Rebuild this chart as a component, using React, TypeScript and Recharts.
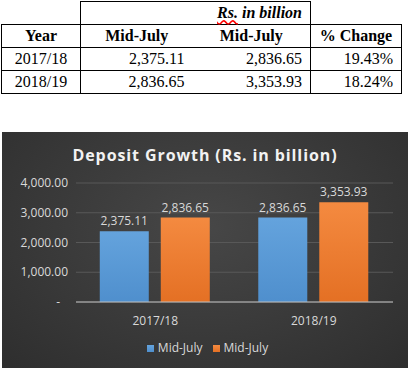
import React from 'react';
import { BarChart, Bar, XAxis, YAxis, CartesianGrid, Legend, LabelList } from 'recharts';

const years = ['2017/18', '2018/19'];
const midJulyA = [2375.11, 2836.65];
const midJulyB = [2836.65, 3353.93];
const pctChange = ['19.43%', '18.24%'];
const yTicks = [0, 1000, 2000, 3000, 4000];

const data = years.map((y, i) => ({ year: y, a: midJulyA[i], b: midJulyB[i] }));

const fmt = (v: number) =>
    v === 0 ? '-' : v.toLocaleString('en-US', { minimumFractionDigits: 2, maximumFractionDigits: 2 });

const cell: React.CSSProperties = {
    border: '1px solid #000',
    padding: '0 8px 0 4px',
    height: 22,
    fontSize: 16,
    lineHeight: '22px',
    boxSizing: 'border-box',
};

const YTick = (props: any) => {
    const { x, y, payload } = props;
    const isZero = payload.value === 0;
    return (
        <text x={isZero ? x - 8 : x} y={y} dy={4} textAnchor="end" fill="#d9d9d9" fontSize={12} fontFamily="'Open Sans', sans-serif">
            {fmt(payload.value)}
        </text>
    );
};

const DepositTable = () => (
    <table style={{ position: 'absolute', left: 1, top: 1, borderCollapse: 'collapse', fontFamily: "'Liberation Serif', serif", width: 400, tableLayout: 'fixed' }}>
        <colgroup>
            <col style={{ width: 79 }} />
            <col style={{ width: 112 }} />
            <col style={{ width: 118 }} />
            <col style={{ width: 91 }} />
        </colgroup>
        <tbody>
            <tr>
                <td style={{ ...cell, border: 'none' }}></td>
                <td colSpan={2} style={{ ...cell, textAlign: 'right', fontWeight: 'bold', fontStyle: 'italic' }}>
                    <span style={{ textDecoration: 'underline wavy red' }}>Rs.</span> in billion
                </td>
                <td style={{ ...cell, borderTop: 'none', borderRight: 'none' }}></td>
            </tr>
            <tr>
                <td style={{ ...cell, textAlign: 'center', fontWeight: 'bold', padding: 0 }}>Year</td>
                <td style={{ ...cell, textAlign: 'center', fontWeight: 'bold', borderRight: 'none', padding: 0 }}>Mid-July</td>
                <td style={{ ...cell, textAlign: 'center', fontWeight: 'bold', borderLeft: 'none', padding: 0 }}>Mid-July</td>
                <td style={{ ...cell, textAlign: 'center', fontWeight: 'bold', padding: 0 }}>% Change</td>
            </tr>
            {years.map((y, i) => (
                <tr key={y}>
                    <td style={{ ...cell, textAlign: 'center', padding: 0 }}>{y}</td>
                    <td style={{ ...cell, textAlign: 'right', borderRight: 'none' }}>{fmt(midJulyA[i])}</td>
                    <td style={{ ...cell, textAlign: 'right', borderLeft: 'none' }}>{fmt(midJulyB[i])}</td>
                    <td style={{ ...cell, textAlign: 'right' }}>{pctChange[i]}</td>
                </tr>
            ))}
        </tbody>
    </table>
);

const App = () => {
    return (
        <div style={{ position: 'absolute', left: 0, top: 0, width: 410, height: 371, background: '#fff' }}>
            <DepositTable />
            <div
                style={{
                    position: 'absolute',
                    left: 2,
                    top: 132,
                    width: 406,
                    height: 236,
                    background: 'radial-gradient(ellipse at 50% 40%, #474747 0%, #2e2e2e 100%)',
                }}
            >
                <div
                    style={{
                        position: 'absolute',
                        top: 12,
                        width: '100%',
                        textAlign: 'center',
                        color: '#f2f2f2',
                        fontFamily: "'Open Sans', sans-serif",
                        fontWeight: 'bold',
                        fontSize: 16,
                        letterSpacing: 0.9,
                    }}
                >
                    Deposit Growth (Rs. in billion)
                </div>
                <BarChart
                    width={406}
                    height={236}
                    data={data}
                    margin={{ top: 51, right: 15, left: 0, bottom: 1 }}
                    barCategoryGap="15%"
                    barGap={12}
                >
                    <defs>
                        <linearGradient id="gBlue" x1="0" y1="0" x2="0" y2="1">
                            <stop offset="0%" stopColor="#64a3dd" />
                            <stop offset="100%" stopColor="#4f8fcd" />
                        </linearGradient>
                        <linearGradient id="gOrange" x1="0" y1="0" x2="0" y2="1">
                            <stop offset="0%" stopColor="#f48a40" />
                            <stop offset="100%" stopColor="#e47024" />
                        </linearGradient>
                    </defs>
                    <CartesianGrid vertical={false} stroke="#585858" />
                    <XAxis
                        dataKey="year"
                        axisLine={{ stroke: '#bfbfbf' }}
                        tickLine={false}
                        tick={{ fill: '#d9d9d9', fontSize: 12, fontFamily: "'Open Sans', sans-serif" }}
                        tickMargin={8}
                        height={37}
                    />
                    <YAxis
                        domain={[0, 4000]}
                        ticks={yTicks}
                        axisLine={false}
                        tickLine={false}
                        tick={<YTick />}
                        width={74}
                    />
                    <Legend
                        verticalAlign="bottom"
                        height={28}
                        iconType="square"
                        iconSize={7}
                        wrapperStyle={{ fontSize: 12, fontFamily: "'Open Sans', sans-serif", color: '#d9d9d9', paddingLeft: 15 }}
                        formatter={(v: string) => <span style={{ color: '#d9d9d9' }}>{v}</span>}
                    />
                    <Bar dataKey="a" name="Mid-July" fill="url(#gBlue)" legendType="square" isAnimationActive={false}>
                        <LabelList dataKey="a" position="top" offset={6} formatter={(v: any) => fmt(v)} fill="#d9d9d9" fontSize={12} fontFamily="'Open Sans', sans-serif" />
                    </Bar>
                    <Bar dataKey="b" name="Mid-July" fill="url(#gOrange)" legendType="square" isAnimationActive={false}>
                        <LabelList dataKey="b" position="top" offset={6} formatter={(v: any) => fmt(v)} fill="#d9d9d9" fontSize={12} fontFamily="'Open Sans', sans-serif" />
                    </Bar>
                </BarChart>
            </div>
        </div>
    );
};

export default App;
